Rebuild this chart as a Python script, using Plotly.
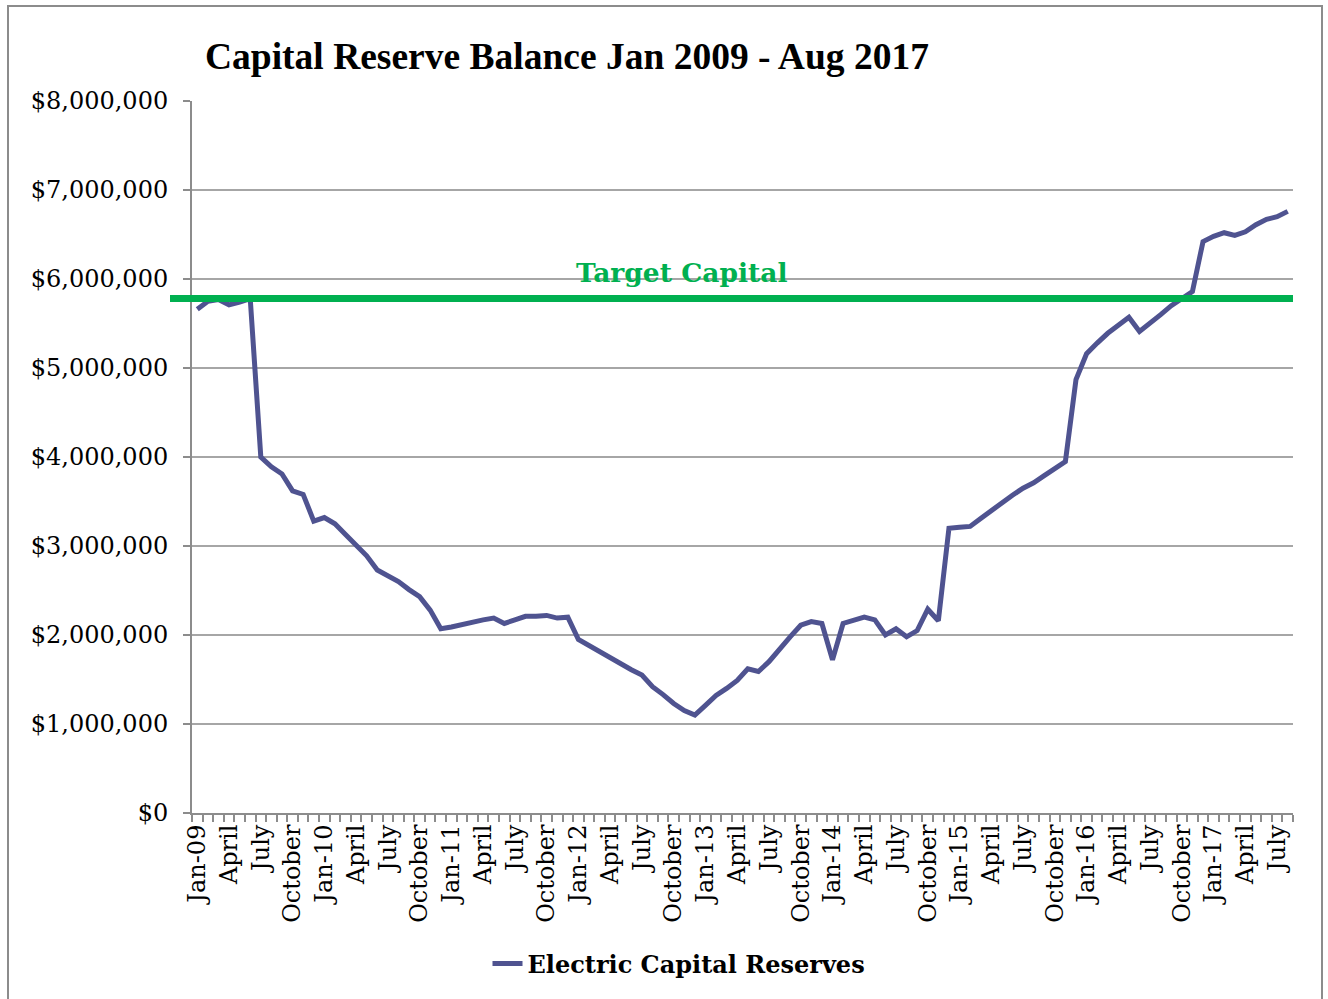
import plotly.graph_objects as go

# Monthly balances, Jan 2009 through Aug 2017 (dollars)
reserves = [
    5660000, 5750000, 5770000, 5710000, 5740000, 5780000, 4000000, 3890000, 3810000, 3620000, 3580000, 3280000,
    3320000, 3250000, 3130000, 3010000, 2890000, 2730000, 2660000, 2600000, 2510000, 2430000, 2280000, 2070000,
    2090000, 2120000, 2140000, 2170000, 2190000, 2130000, 2170000, 2210000, 2210000, 2220000, 2190000, 2200000,
    1950000, 1880000, 1810000, 1740000, 1680000, 1610000, 1550000, 1420000, 1330000, 1230000, 1150000, 1100000,
    1210000, 1320000, 1400000, 1490000, 1620000, 1590000, 1700000, 1850000, 1980000, 2110000, 2150000, 2130000,
    1720000, 2130000, 2160000, 2200000, 2170000, 2000000, 2070000, 1980000, 2050000, 2290000, 2160000, 3200000,
    3210000, 3220000, 3310000, 3400000, 3480000, 3570000, 3650000, 3710000, 3790000, 3870000, 3950000, 4870000,
    5160000, 5280000, 5390000, 5480000, 5570000, 5410000, 5500000, 5600000, 5700000, 5780000, 5860000, 6420000,
    6480000, 6520000, 6490000, 6530000, 6610000, 6670000, 6700000, 6760000,
]
target_capital = 5780000

# Quarterly axis labels (one every third month)
tick_labels = [
    "Jan-09", "April", "July", "October",
    "Jan-10", "April", "July", "October",
    "Jan-11", "April", "July", "October",
    "Jan-12", "April", "July", "October",
    "Jan-13", "April", "July", "October",
    "Jan-14", "April", "July", "October",
    "Jan-15", "April", "July", "October",
    "Jan-16", "April", "July", "October",
    "Jan-17", "April", "July",
]

month_index = list(range(len(reserves)))
tick_positions = month_index[::3]

LINE_COLOR = "#4F5390"
GREEN = "#00B050"
GRID = "#A6A6A6"
SERIF = "DejaVu Serif"
TITLE_FONT = "Liberation Serif"

fig = go.Figure()
fig.add_trace(go.Scatter(
    x=month_index, y=reserves, mode="lines",
    name="Electric Capital Reserves",
    line=dict(color=LINE_COLOR, width=5),
))

W, H = 1328, 999
L, R, T, B = 192, 35, 101, 186
pw, ph = W - L - R, H - T - B


def px_x(px):
    return (px - L) / pw


def px_y(py):
    return (H - B - py) / ph


fig.update_layout(
    width=W, height=H,
    margin=dict(l=L, r=R, t=T, b=B, autoexpand=False),
    paper_bgcolor="white", plot_bgcolor="white",
    title=dict(
        text="<b>Capital Reserve Balance Jan 2009 - Aug 2017</b>",
        font=dict(family=TITLE_FONT, size=37.5, color="black"),
        x=205 / W, xref="container", xanchor="left",
        y=1 - 56 / H, yref="container", yanchor="middle",
    ),
    showlegend=True,
    legend=dict(
        orientation="h", x=px_x(679), xanchor="center",
        y=px_y(964), yanchor="middle",
        font=dict(family=SERIF, size=24, color="black", weight="bold"),
        bgcolor="rgba(0,0,0,0)",
    ),
    xaxis=dict(
        range=[-0.5, len(reserves) - 0.5],
        tickmode="array", tickvals=tick_positions, ticktext=tick_labels,
        tickangle=-90, ticks="", showgrid=False, zeroline=False,
        showline=True, linecolor="#8C8C8C", linewidth=2,
        tickfont=dict(family=SERIF, size=24, color="black"),
        minor=dict(tick0=-0.5, dtick=1, ticks="outside", ticklen=7,
                   tickcolor="#8C8C8C", tickwidth=1.5, showgrid=False),
        fixedrange=True,
    ),
    yaxis=dict(
        range=[0, 8000000], dtick=1000000, tickformat="$,.0f",
        showgrid=True, gridcolor=GRID, gridwidth=1.5,
        zeroline=False, showline=True, linecolor="#8C8C8C", linewidth=2,
        ticks="outside", ticklen=7, tickcolor="#8C8C8C", tickwidth=1.5,
        ticklabelstandoff=10,
        tickfont=dict(family=SERIF, size=24, color="black"),
        fixedrange=True,
    ),
)

# Target capital level line, running slightly past the value axis
fig.add_shape(
    type="line", xref="paper", yref="y",
    x0=px_x(170), x1=1.0, y0=target_capital, y1=target_capital,
    line=dict(color=GREEN, width=7), layer="above",
)
fig.add_annotation(
    text="<b>Target Capital</b>", xref="paper", yref="y",
    x=px_x(682), y=target_capital, yshift=26, showarrow=False,
    xanchor="center", yanchor="middle",
    font=dict(family=SERIF, size=26.5, color=GREEN),
)

# Outer chart frame
fig.add_shape(
    type="rect", xref="paper", yref="paper",
    x0=px_x(8), x1=px_x(1322), y0=px_y(1010), y1=px_y(6),
    line=dict(color="#8C8C8C", width=2), fillcolor="rgba(0,0,0,0)", layer="below",
)

fig.write_html("out.html")
